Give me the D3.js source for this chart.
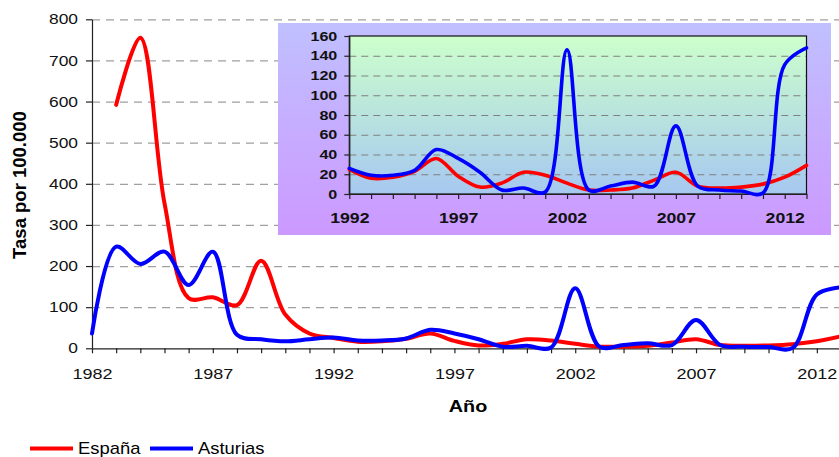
<!DOCTYPE html>
<html>
<head>
<meta charset="utf-8">
<script src="https://cdn.jsdelivr.net/npm/d3@7"></script>
<style>
  body { margin: 0; background: #fff; }
  svg { display: block; font-family: "Liberation Sans", Arial, sans-serif; }
  .grid line { stroke: #a0a0a0; stroke-dasharray: 8,6; stroke-width: 1.2; }
  .grid path { display: none; }
  .igrid line { stroke: #808080; stroke-dasharray: 7,5; stroke-width: 1.1; }
  .igrid path { display: none; }
  .axis path, .axis line { stroke: #222; stroke-width: 1.2; }
  .axis text { fill: #111; }
</style>
</head>
<body>
<div id="chart"></div>
<script>
// data
const years = [1982, 1983, 1984, 1985, 1986, 1987, 1988, 1989, 1990, 1991,
               1992, 1993, 1994, 1995, 1996, 1997, 1998, 1999, 2000, 2001,
               2002, 2003, 2004, 2005, 2006, 2007, 2008, 2009, 2010, 2011,
               2012, 2013];
const espana = [null, 592, 755, 353, 122, 124, 105, 213, 82, 36,
                25, 16, 17, 23, 36, 18, 7, 11, 22, 19,
                11, 4, 4, 6, 14, 22, 8, 6, 7, 10,
                17, 29];
const asturias = [36, 247, 205, 235, 154, 235, 33, 22, 17, 22,
                  26, 19, 19, 24, 45, 36, 22, 4, 6, 2,
                  146, 4, 8, 12, 8, 69, 8, 4, 3, 1,
                  131, 148];
const mainYTicks = [0, 100, 200, 300, 400, 500, 600, 700, 800];
const insetYTicks = [0, 20, 40, 60, 80, 100, 120, 140, 160];
const xLabels = [1982, 1987, 1992, 1997, 2002, 2007, 2012];
const insetStart = 1992;
const seriesNames = ["España", "Asturias"];
const seriesColors = ["#ff0000", "#0000ff"];

const W = 839, H = 457;
const sx = 1.2; // the picture's text is a bit wider than plain Arial

const svg = d3.select("#chart").append("svg")
    .attr("width", W)
    .attr("height", H);

const defs = svg.append("defs");
let g1 = defs.append("linearGradient").attr("id", "boxGrad")
    .attr("x1", 0).attr("y1", 0).attr("x2", 0).attr("y2", 1);
g1.append("stop").attr("offset", "0%").attr("stop-color", "#c0c0ff");
g1.append("stop").attr("offset", "100%").attr("stop-color", "#cc99ff");
let g2 = defs.append("linearGradient").attr("id", "plotGrad")
    .attr("x1", 0).attr("y1", 0).attr("x2", 0).attr("y2", 1);
g2.append("stop").attr("offset", "0%").attr("stop-color", "#ccffcc");
g2.append("stop").attr("offset", "100%").attr("stop-color", "#a6c8f0");

// ---------- main chart ----------
let x = d3.scaleLinear().domain([1982, 2013]).range([92, 841]);
let y = d3.scaleLinear().domain([0, 800]).range([348.3, 19.3]);

svg.append("g")
    .attr("class", "grid")
    .attr("transform", "translate(92,0)")
    .call(d3.axisRight(y).tickValues(mainYTicks.slice(1)).tickSize(W).tickFormat(""));

let yAxis = svg.append("g")
    .attr("class", "axis")
    .attr("transform", "translate(92,0)")
    .call(d3.axisLeft(y).tickValues(mainYTicks).tickSize(6).tickSizeOuter(0));
yAxis.selectAll("text")
    .attr("x", -14 / sx)
    .attr("transform", "scale(" + sx + ",1)")
    .style("font-size", "14.5px");

let xAxis = svg.append("g")
    .attr("class", "axis")
    .attr("transform", "translate(0," + y(0) + ")")
    .call(d3.axisBottom(x).tickValues(years).tickSize(5).tickSizeOuter(0)
      .tickFormat(d => xLabels.includes(d) ? d : ""));
xAxis.selectAll("text")
    .attr("y", 20)
    .attr("transform", "scale(" + sx + ",1)")
    .style("font-size", "15px");

let line = d3.line()
    .defined(d => d.v != null)
    .x(d => x(d.year))
    .y(d => y(d.v))
    .curve(d3.curveCatmullRom.alpha(0.5));

[espana, asturias].forEach((vals, i) => {
  svg.append("path")
    .datum(years.map((yr, j) => ({year: yr, v: vals[j]})))
    .attr("fill", "none")
    .attr("stroke", seriesColors[i])
    .attr("stroke-width", 4)
    .attr("stroke-linejoin", "round")
    .attr("stroke-linecap", "round")
    .attr("d", line);
});

// axis titles
svg.append("text")
    .attr("transform", "translate(26,185) rotate(-90)")
    .attr("text-anchor", "middle")
    .style("font-size", "18.5px")
    .style("font-weight", "bold")
    .text("Tasa por 100.000");

svg.append("text")
    .attr("transform", "translate(468,412) scale(" + sx + ",1)")
    .attr("text-anchor", "middle")
    .style("font-size", "16.5px")
    .style("font-weight", "bold")
    .text("Año");

// legend
let legendX = [30, 150];
seriesNames.forEach((name, i) => {
  svg.append("line")
    .attr("x1", legendX[i]).attr("x2", legendX[i] + 43)
    .attr("y1", 448.5).attr("y2", 448.5)
    .attr("stroke", seriesColors[i])
    .attr("stroke-width", 4);
  svg.append("text")
    .attr("transform", "translate(" + (legendX[i] + 48) + ",454) scale(1.15,1)")
    .style("font-size", "16px")
    .text(name);
});

// ---------- inset chart ----------
svg.append("rect")
    .attr("x", 278).attr("y", 23)
    .attr("width", 553).attr("height", 212)
    .attr("fill", "url(#boxGrad)");

let ix = d3.scaleLinear().domain([insetStart, 2013]).range([349.3, 806.5]);
let iy = d3.scaleLinear().domain([0, 160]).range([194, 36]);

svg.append("rect")
    .attr("x", ix(insetStart)).attr("y", iy(160))
    .attr("width", ix(2013) - ix(insetStart)).attr("height", iy(0) - iy(160))
    .attr("fill", "url(#plotGrad)");

svg.append("g")
    .attr("class", "igrid")
    .attr("transform", "translate(" + ix(insetStart) + ",0)")
    .call(d3.axisRight(iy).tickValues(insetYTicks.slice(1, -1))
      .tickSize(ix(2013) - ix(insetStart)).tickFormat(""));

svg.append("rect")
    .attr("x", ix(insetStart)).attr("y", iy(160))
    .attr("width", ix(2013) - ix(insetStart)).attr("height", iy(0) - iy(160))
    .attr("fill", "none")
    .attr("stroke", "#111")
    .attr("stroke-width", 1.2);

let iyAxis = svg.append("g")
    .attr("class", "axis")
    .attr("transform", "translate(" + ix(insetStart) + ",0)")
    .call(d3.axisLeft(iy).tickValues(insetYTicks).tickSize(5).tickSizeOuter(0));
iyAxis.selectAll("text")
    .attr("x", -12 / 1.24)
    .attr("transform", "scale(" + 1.24 + ",1)")
    .style("font-size", "13px")
    .style("font-weight", "bold");

let iYears = years.filter(d => d >= insetStart);
let ixAxis = svg.append("g")
    .attr("class", "axis")
    .attr("transform", "translate(0," + iy(0) + ")")
    .call(d3.axisBottom(ix).tickValues(iYears).tickSize(5).tickSizeOuter(0)
      .tickFormat(d => xLabels.includes(d) ? d : ""));
ixAxis.selectAll("text")
    .attr("y", 18.5)
    .attr("transform", "scale(" + 1.22 + ",1)")
    .style("font-size", "14.5px")
    .style("font-weight", "bold");

let iline = d3.line()
    .x(d => ix(d.year))
    .y(d => iy(d.v))
    .curve(d3.curveCatmullRom.alpha(0.5));

[espana, asturias].forEach((vals, i) => {
  svg.append("path")
    .datum(years.map((yr, j) => ({year: yr, v: vals[j]})).filter(d => d.year >= insetStart))
    .attr("fill", "none")
    .attr("stroke", seriesColors[i])
    .attr("stroke-width", 3.6)
    .attr("stroke-linejoin", "round")
    .attr("stroke-linecap", "round")
    .attr("d", iline);
});
</script>
</body>
</html>
